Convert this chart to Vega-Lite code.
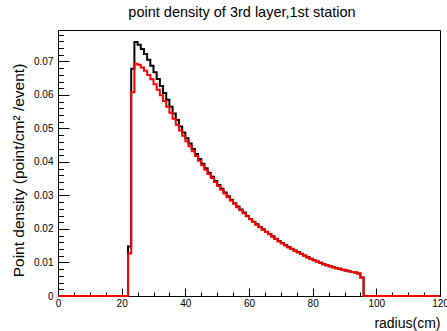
{
  "$schema": "https://vega.github.io/schema/vega-lite/v6.json",
  "width": 382,
  "height": 266,
  "autosize": {"type": "none"},
  "padding": {"left": 58, "top": 30, "right": 7, "bottom": 35},
  "background": "white",
  "config": {"view": {"stroke": "black", "strokeWidth": 1}, "font": "Liberation Sans"},
  "title": {"text": "point density of 3rd layer,1st station", "font": "Liberation Sans", "fontSize": 14.5, "fontWeight": "normal", "color": "black", "anchor": "middle", "frame": "group", "dx": -7, "offset": 10},
  "datasets": {
    "black": [
      {"r": 0, "d": 0}, {"r": 22, "d": 0.0148}, {"r": 23, "d": 0.0678}, {"r": 24, "d": 0.0758}, {"r": 25, "d": 0.0750},
      {"r": 26, "d": 0.0737}, {"r": 27, "d": 0.0722}, {"r": 28, "d": 0.0705}, {"r": 29, "d": 0.0687}, {"r": 30, "d": 0.0668},
      {"r": 31, "d": 0.0648}, {"r": 32, "d": 0.0627}, {"r": 33, "d": 0.0606}, {"r": 34, "d": 0.0586}, {"r": 35, "d": 0.0565},
      {"r": 36, "d": 0.0545}, {"r": 37, "d": 0.0525}, {"r": 38, "d": 0.0506}, {"r": 39, "d": 0.0488}, {"r": 40, "d": 0.0471},
      {"r": 41, "d": 0.0455}, {"r": 42, "d": 0.0439}, {"r": 43, "d": 0.0424}, {"r": 44, "d": 0.0409}, {"r": 45, "d": 0.0395},
      {"r": 46, "d": 0.0381}, {"r": 47, "d": 0.0368}, {"r": 48, "d": 0.0356}, {"r": 49, "d": 0.0343}, {"r": 50, "d": 0.0331},
      {"r": 51, "d": 0.0320}, {"r": 52, "d": 0.0309}, {"r": 53, "d": 0.0298}, {"r": 54, "d": 0.0287}, {"r": 55, "d": 0.0277},
      {"r": 56, "d": 0.0267}, {"r": 57, "d": 0.0258}, {"r": 58, "d": 0.0249}, {"r": 59, "d": 0.0239}, {"r": 60, "d": 0.0230},
      {"r": 61, "d": 0.0222}, {"r": 62, "d": 0.0214}, {"r": 63, "d": 0.0206}, {"r": 64, "d": 0.0199}, {"r": 65, "d": 0.0192},
      {"r": 66, "d": 0.0185}, {"r": 67, "d": 0.0178}, {"r": 68, "d": 0.0171}, {"r": 69, "d": 0.0164}, {"r": 70, "d": 0.0158},
      {"r": 71, "d": 0.0152}, {"r": 72, "d": 0.0146}, {"r": 73, "d": 0.0141}, {"r": 74, "d": 0.0136}, {"r": 75, "d": 0.0131},
      {"r": 76, "d": 0.0126}, {"r": 77, "d": 0.0121}, {"r": 78, "d": 0.0116}, {"r": 79, "d": 0.0111}, {"r": 80, "d": 0.0107},
      {"r": 81, "d": 0.0103}, {"r": 82, "d": 0.0099}, {"r": 83, "d": 0.0095}, {"r": 84, "d": 0.0092}, {"r": 85, "d": 0.0089},
      {"r": 86, "d": 0.0086}, {"r": 87, "d": 0.0083}, {"r": 88, "d": 0.0081}, {"r": 89, "d": 0.0078}, {"r": 90, "d": 0.0076},
      {"r": 91, "d": 0.0074}, {"r": 92, "d": 0.0072}, {"r": 93, "d": 0.0070}, {"r": 94, "d": 0.0067}, {"r": 95, "d": 0.0055},
      {"r": 96, "d": 0}, {"r": 120, "d": 0}
    ],
    "red": [
      {"r": 0, "d": 0}, {"r": 22, "d": 0.0127}, {"r": 23, "d": 0.0608}, {"r": 24, "d": 0.0693}, {"r": 25, "d": 0.0690},
      {"r": 26, "d": 0.0682}, {"r": 27, "d": 0.0672}, {"r": 28, "d": 0.0660}, {"r": 29, "d": 0.0647}, {"r": 30, "d": 0.0632},
      {"r": 31, "d": 0.0616}, {"r": 32, "d": 0.0599}, {"r": 33, "d": 0.0582}, {"r": 34, "d": 0.0565}, {"r": 35, "d": 0.0547},
      {"r": 36, "d": 0.0529}, {"r": 37, "d": 0.0511}, {"r": 38, "d": 0.0494}, {"r": 39, "d": 0.0478}, {"r": 40, "d": 0.0462},
      {"r": 41, "d": 0.0447}, {"r": 42, "d": 0.0432}, {"r": 43, "d": 0.0418}, {"r": 44, "d": 0.0404}, {"r": 45, "d": 0.0390},
      {"r": 46, "d": 0.0377}, {"r": 47, "d": 0.0364}, {"r": 48, "d": 0.0352}, {"r": 49, "d": 0.0340}, {"r": 50, "d": 0.0328},
      {"r": 51, "d": 0.0317}, {"r": 52, "d": 0.0306}, {"r": 53, "d": 0.0295}, {"r": 54, "d": 0.0285}, {"r": 55, "d": 0.0275},
      {"r": 56, "d": 0.0265}, {"r": 57, "d": 0.0256}, {"r": 58, "d": 0.0247}, {"r": 59, "d": 0.0238}, {"r": 60, "d": 0.0229},
      {"r": 61, "d": 0.0221}, {"r": 62, "d": 0.0213}, {"r": 63, "d": 0.0205}, {"r": 64, "d": 0.0198}, {"r": 65, "d": 0.0191},
      {"r": 66, "d": 0.0184}, {"r": 67, "d": 0.0177}, {"r": 68, "d": 0.0170}, {"r": 69, "d": 0.0163}, {"r": 70, "d": 0.0157},
      {"r": 71, "d": 0.0151}, {"r": 72, "d": 0.0145}, {"r": 73, "d": 0.0140}, {"r": 74, "d": 0.0135}, {"r": 75, "d": 0.0130},
      {"r": 76, "d": 0.0125}, {"r": 77, "d": 0.0120}, {"r": 78, "d": 0.0115}, {"r": 79, "d": 0.0111}, {"r": 80, "d": 0.0107},
      {"r": 81, "d": 0.0103}, {"r": 82, "d": 0.0099}, {"r": 83, "d": 0.0095}, {"r": 84, "d": 0.0092}, {"r": 85, "d": 0.0089},
      {"r": 86, "d": 0.0086}, {"r": 87, "d": 0.0083}, {"r": 88, "d": 0.0081}, {"r": 89, "d": 0.0078}, {"r": 90, "d": 0.0076},
      {"r": 91, "d": 0.0074}, {"r": 92, "d": 0.0072}, {"r": 93, "d": 0.0070}, {"r": 94, "d": 0.0067}, {"r": 95, "d": 0.0055},
      {"r": 96, "d": 0}, {"r": 120, "d": 0}
    ]
  },
  "layer": [
    {
      "data": {"name": "black"},
      "mark": {"type": "line", "interpolate": "step-after", "color": "black", "strokeWidth": 2},
      "encoding": {
        "x": {"field": "r", "type": "quantitative", "scale": {"domain": [0, 120], "nice": false, "zero": false},
          "axis": {"orient": "bottom", "values": [0, 20, 40, 60, 80, 100, 120], "format": "d", "tickSize": -8, "labelPadding": 10, "domain": false, "grid": false,
            "tickColor": "black", "labelColor": "black", "labelFont": "Liberation Sans", "labelFontSize": 10, "labelFlush": false, "labelOverlap": false,
            "title": "radius(cm)", "titleFont": "Liberation Sans", "titleFontSize": 14, "titleFontWeight": "normal", "titleColor": "black",
            "titleAlign": "right", "titleAnchor": "end", "titleX": 382, "titleY": 31, "titleBaseline": "alphabetic"}},
        "y": {"field": "d", "type": "quantitative", "scale": {"domain": [0, 0.0794], "nice": false, "zero": false},
          "axis": {"orient": "left", "values": [0, 0.01, 0.02, 0.03, 0.04, 0.05, 0.06, 0.07], "format": "~g", "tickSize": -11, "labelPadding": 16, "domain": false, "grid": false,
            "tickColor": "black", "labelColor": "black", "labelFont": "Liberation Sans", "labelFontSize": 10, "labelFlush": false, "labelOverlap": false,
            "title": "Point density (point/cm² /event)", "titleFont": "Liberation Sans", "titleFontSize": 15.5, "titleFontWeight": "normal", "titleColor": "black",
            "titleAngle": -90, "titleAlign": "center", "titleX": -35, "titleY": 140, "titleBaseline": "alphabetic"}}
      }
    },
    {
      "data": {"name": "red"},
      "mark": {"type": "line", "interpolate": "step-after", "color": "#ff0000", "strokeWidth": 2},
      "encoding": {
        "x": {"field": "r", "type": "quantitative",
          "axis": {"orient": "bottom", "values": [5, 10, 15, 25, 30, 35, 45, 50, 55, 65, 70, 75, 85, 90, 95, 105, 110, 115], "tickSize": -4, "labels": false, "domain": false, "grid": false, "tickColor": "black", "title": null}},
        "y": {"field": "d", "type": "quantitative",
          "axis": {"orient": "left", "values": [0.002, 0.004, 0.006, 0.008, 0.012, 0.014, 0.016, 0.018, 0.022, 0.024, 0.026, 0.028, 0.032, 0.034, 0.036, 0.038, 0.042, 0.044, 0.046, 0.048, 0.052, 0.054, 0.056, 0.058, 0.062, 0.064, 0.066, 0.068, 0.072, 0.074, 0.076, 0.078], "tickSize": -5.5, "labels": false, "domain": false, "grid": false, "tickColor": "black", "title": null}}
      }
    }
  ],
  "resolve": {"axis": {"x": "independent", "y": "independent"}}
}
